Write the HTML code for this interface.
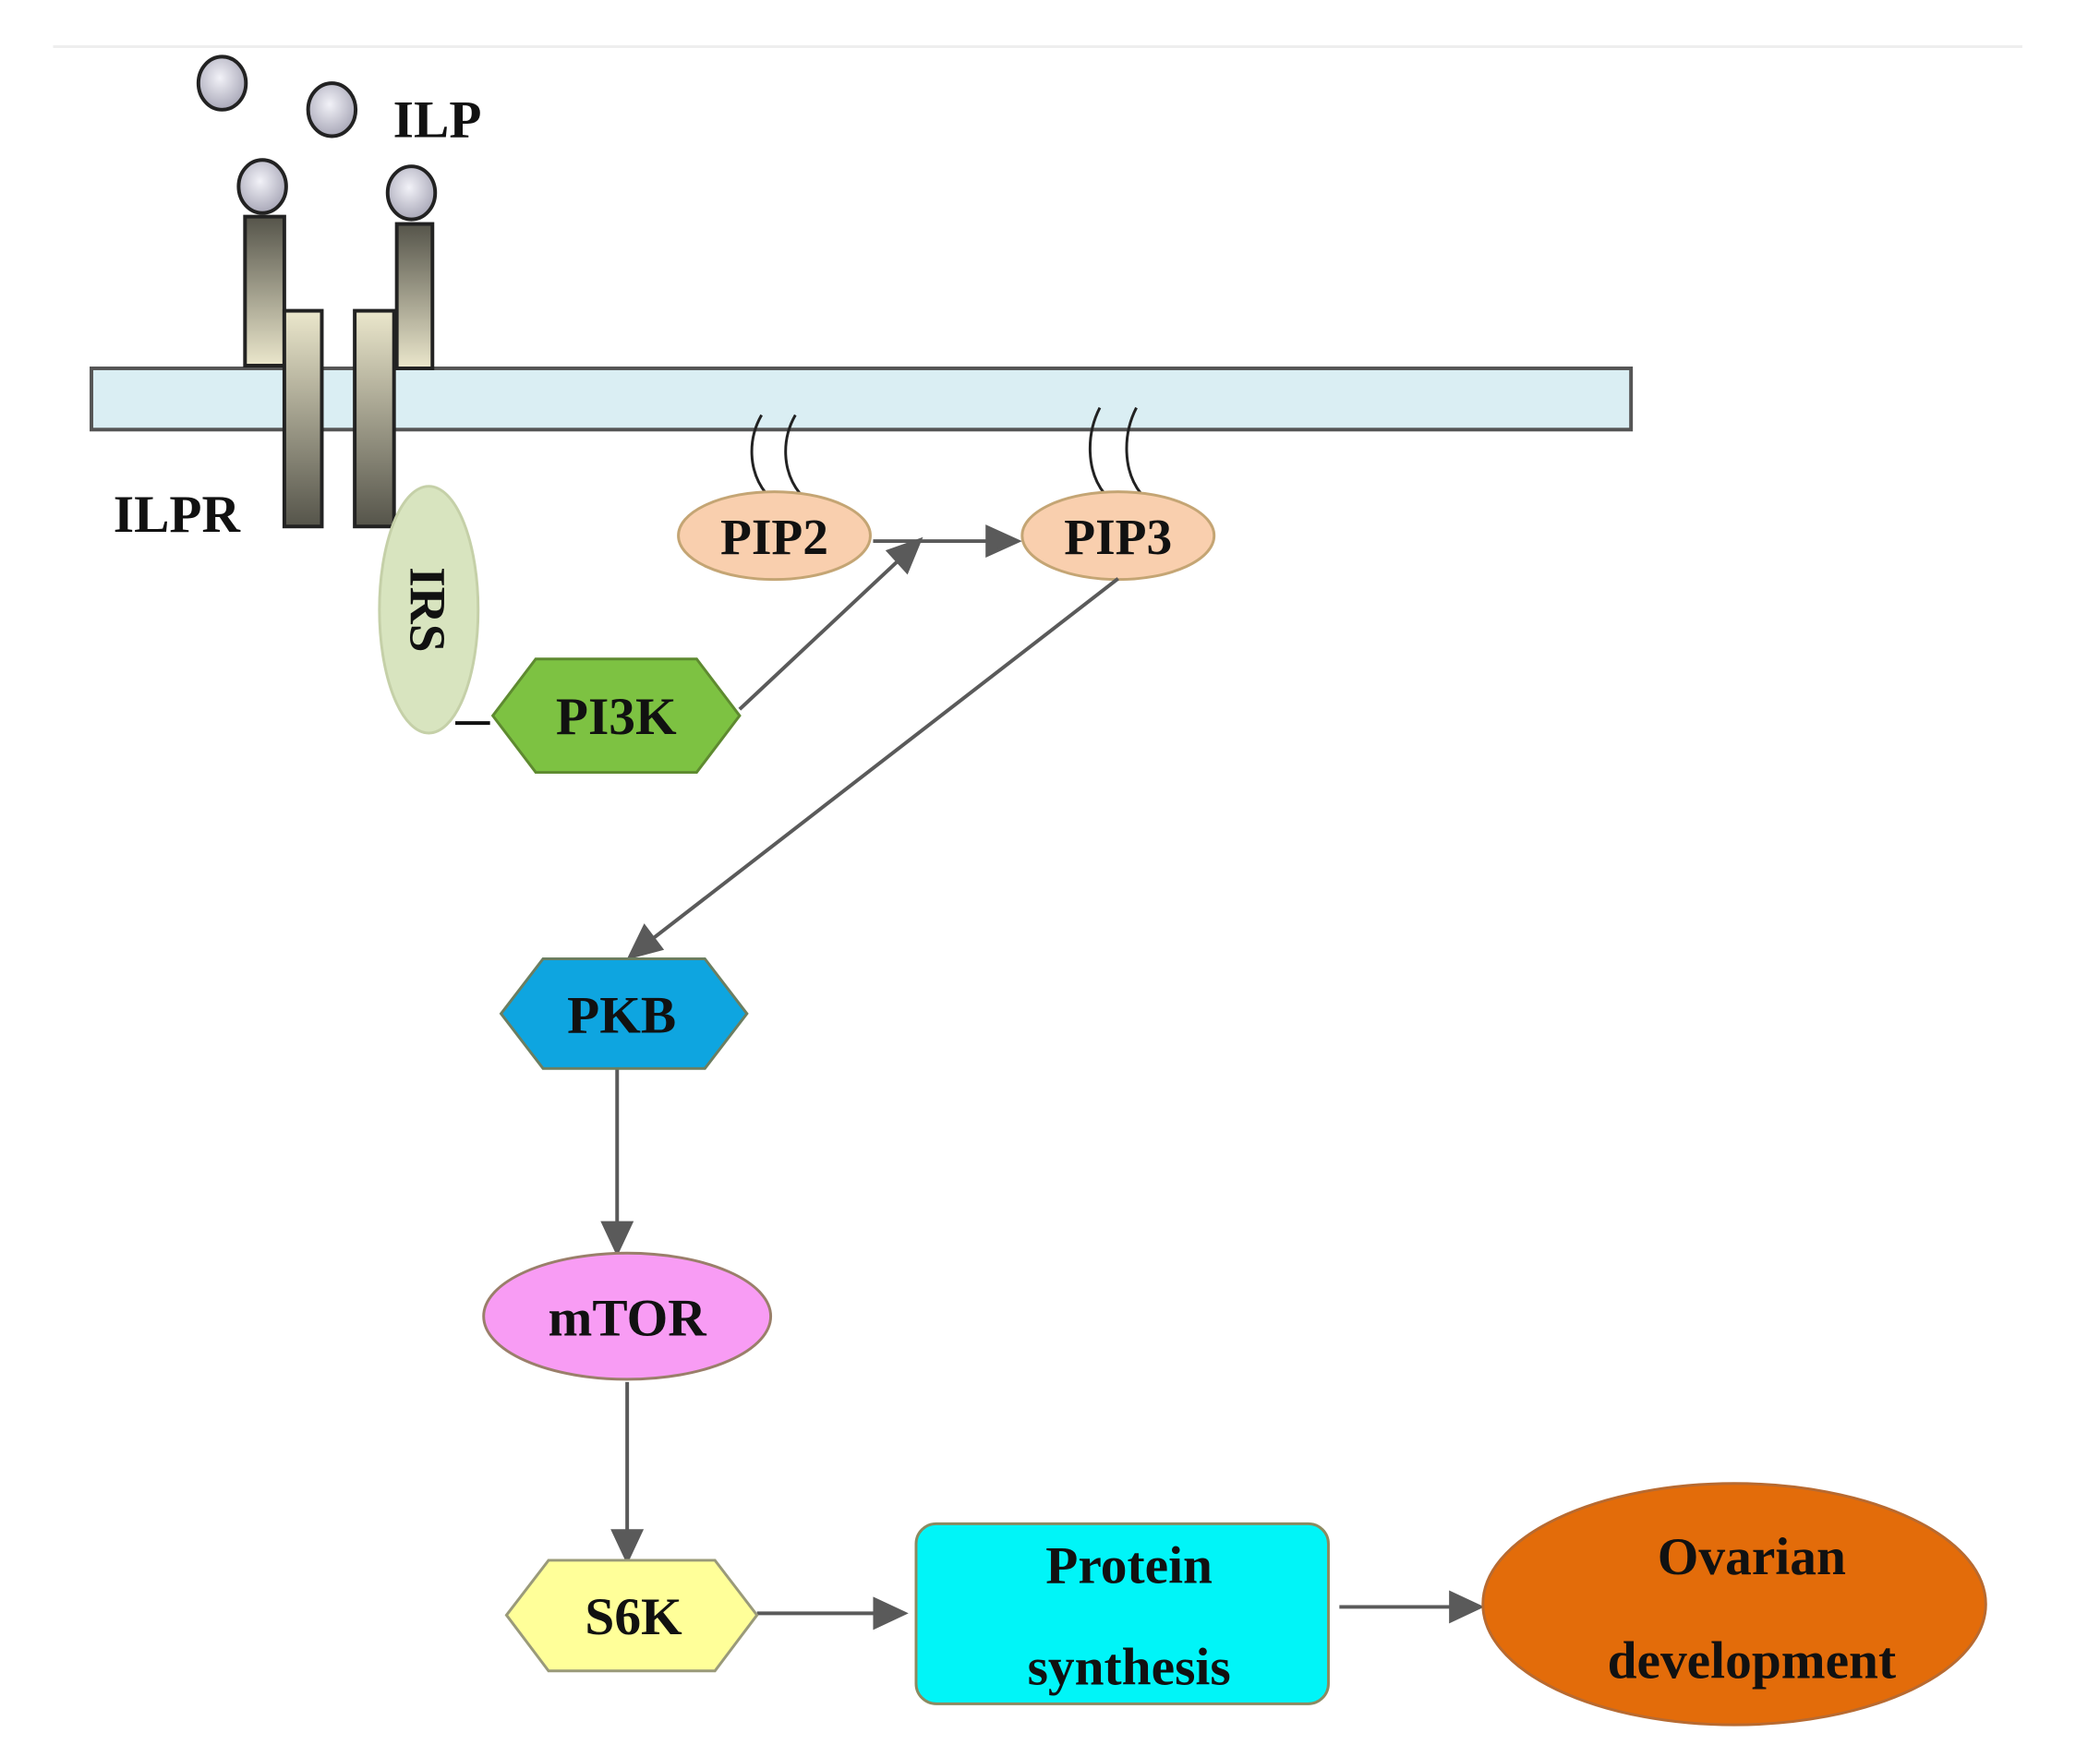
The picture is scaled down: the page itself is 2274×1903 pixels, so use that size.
<!DOCTYPE html>
<html><head><meta charset="utf-8"><style>
html,body{margin:0;padding:0;background:#fff;}
svg{display:block;}
text{font-family:"Liberation Serif",serif;font-weight:bold;fill:#111;}
</style></head><body>
<svg width="2274" height="1903" viewBox="0 0 2274 1903" xmlns="http://www.w3.org/2000/svg">
<defs>
<linearGradient id="up" x1="0" y1="0" x2="0" y2="1"><stop offset="0" stop-color="#55544a"/><stop offset="1" stop-color="#ebe7cc"/></linearGradient>
<linearGradient id="dn" x1="0" y1="0" x2="0" y2="1"><stop offset="0" stop-color="#ebe7cc"/><stop offset="1" stop-color="#55544a"/></linearGradient>
<radialGradient id="ball" cx="0.45" cy="0.4" r="0.6"><stop offset="0" stop-color="#f2f2f8"/><stop offset="1" stop-color="#a9a8b8"/></radialGradient>
</defs>
<g transform="scale(0.99)">
<line x1="58" y1="51" x2="2212" y2="51" stroke="#eeeeee" stroke-width="3"/>
<rect x="100" y="403" width="1684" height="67" fill="#daeef3" stroke="#555" stroke-width="4"/>
<rect x="268" y="237" width="43" height="163" fill="url(#up)" stroke="#222" stroke-width="4"/>
<rect x="434" y="245" width="39" height="158" fill="url(#up)" stroke="#222" stroke-width="4"/>
<rect x="311" y="340" width="41" height="236" fill="url(#dn)" stroke="#222" stroke-width="4"/>
<rect x="388" y="340" width="43" height="236" fill="url(#dn)" stroke="#222" stroke-width="4"/>
<ellipse cx="243" cy="91" rx="26" ry="29" fill="url(#ball)" stroke="#222" stroke-width="4"/>
<ellipse cx="363" cy="120" rx="26" ry="29" fill="url(#ball)" stroke="#222" stroke-width="4"/>
<ellipse cx="287" cy="204" rx="26" ry="29" fill="url(#ball)" stroke="#222" stroke-width="4"/>
<ellipse cx="450" cy="211" rx="26" ry="29" fill="url(#ball)" stroke="#222" stroke-width="4"/>
<text x="430" y="150" font-size="58">ILP</text>
<text x="124" y="582" font-size="58">ILPR</text>
<g fill="none" stroke="#222" stroke-width="3">
<path d="M833 454 C818 480 818 515 838 540"/>
<path d="M870 454 C855 480 855 515 875 540"/>
<path d="M1203 446 C1188 475 1188 515 1208 540"/>
<path d="M1243 446 C1228 475 1228 515 1248 540"/>
</g>
<ellipse cx="469" cy="667" rx="54" ry="135" fill="#d8e4bf" stroke="#c5d0a8" stroke-width="3"/>
<text x="0" y="0" font-size="56" transform="translate(449,667) rotate(90)" text-anchor="middle">IRS</text>
<line x1="498" y1="791" x2="536" y2="791" stroke="#111" stroke-width="4"/>
<polygon points="539,783 586,721 762,721 809,783 762,845 586,845" fill="#7dc242" stroke="#5e8a30" stroke-width="3"/>
<text x="674" y="803" font-size="58" text-anchor="middle">PI3K</text>
<ellipse cx="847" cy="586" rx="105" ry="48" fill="#f9cfae" stroke="#c4a574" stroke-width="3"/>
<text x="847" y="606" font-size="56" text-anchor="middle">PIP2</text>
<ellipse cx="1223" cy="586" rx="105" ry="48" fill="#f9cfae" stroke="#c4a574" stroke-width="3"/>
<text x="1223" y="606" font-size="56" text-anchor="middle">PIP3</text>
<g stroke="#5a5a5a" stroke-width="4" fill="#5a5a5a">
<line x1="955" y1="592" x2="1085" y2="592"/>
<polygon points="1113,592 1080,577 1080,607"/>
<line x1="809" y1="776" x2="985" y2="611"/>
<polygon points="1006,591 972,603 992,625"/>
<line x1="1223" y1="633" x2="710" y2="1030"/>
<polygon points="689,1047 705,1014 723,1038"/>
<line x1="675" y1="1169" x2="675" y2="1340"/>
<polygon points="675,1370 660,1338 690,1338"/>
<line x1="686" y1="1512" x2="686" y2="1677"/>
<polygon points="686,1707 671,1675 701,1675"/>
<line x1="828" y1="1765" x2="960" y2="1765"/>
<polygon points="989,1765 957,1750 957,1780"/>
<line x1="1465" y1="1758" x2="1590" y2="1758"/>
<polygon points="1619,1758 1587,1743 1587,1773"/>
</g>
<polygon points="548,1109 594,1049 771,1049 817,1109 771,1169 594,1169" fill="#0ea5e0" stroke="#6c7e60" stroke-width="3"/>
<text x="680" y="1130" font-size="58" text-anchor="middle">PKB</text>
<ellipse cx="686" cy="1440" rx="157" ry="69" fill="#f89cf4" stroke="#9a7f6a" stroke-width="3"/>
<text x="686" y="1461" font-size="58" text-anchor="middle">mTOR</text>
<polygon points="554,1767 600,1707 782,1707 828,1767 782,1828 600,1828" fill="#ffff99" stroke="#9a9a7a" stroke-width="3"/>
<text x="693" y="1788" font-size="58" text-anchor="middle">S6K</text>
<rect x="1002" y="1667" width="451" height="197" rx="22" fill="#00f5f8" stroke="#8c8a60" stroke-width="3"/>
<text x="1235" y="1732" font-size="58" text-anchor="middle">Protein</text>
<text x="1235" y="1843" font-size="58" text-anchor="middle">synthesis</text>
<ellipse cx="1897" cy="1755" rx="275" ry="132" fill="#e36c0a" stroke="#b86a30" stroke-width="3"/>
<text x="1916" y="1722" font-size="58" text-anchor="middle">Ovarian</text>
<text x="1916" y="1836" font-size="58" text-anchor="middle">development</text>
</g>
</svg>
</body></html>
